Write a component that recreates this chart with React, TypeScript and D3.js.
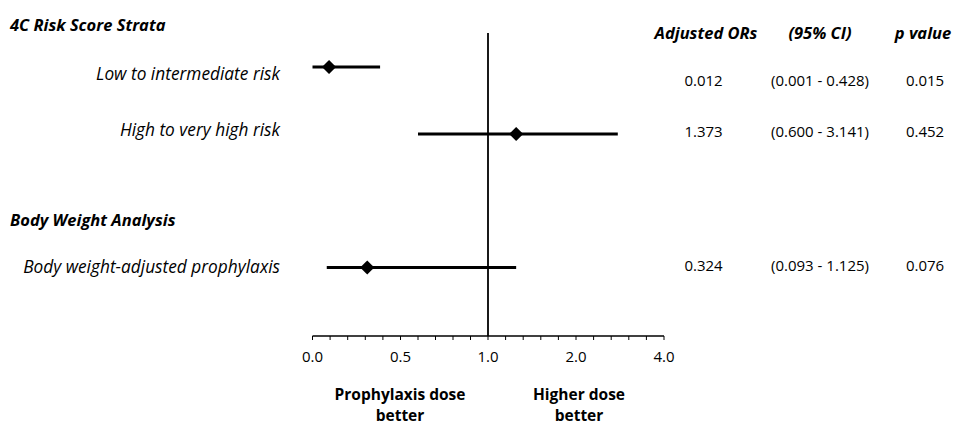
import React from "react";
import * as d3 from "d3";

// Rows of the forest plot
const groupHeaders = ["4C Risk Score Strata", "Body Weight Analysis"];
const rowLabels = ["Low to intermediate risk", "High to very high risk", "Body weight-adjusted prophylaxis"];
// Plotted positions (axis units)
const pointValues = [0.094, 1.32, 0.311];
const lowerValues = [0.0, 0.6, 0.081];
const upperValues = [0.384, 2.95, 1.32];
// Table text
const orText = ["0.012", "1.373", "0.324"];
const ciText = ["(0.001 - 0.428)", "(0.600 - 3.141)", "(0.093 - 1.125)"];
const pText = ["0.015", "0.452", "0.076"];
const columnHeaders = ["Adjusted ORs", "(95% CI)", "p value"];
// Axis
const tickValues = [0, 0.5, 1, 2, 4];
const tickLabels = ["0.0", "0.5", "1.0", "2.0", "4.0"];
const minorTicks = [...d3.range(0, 1, 0.1), ...d3.range(1, 2, 0.2), ...d3.range(2, 4.01, 0.4)];
const bottomLabels = [["Prophylaxis dose", "better"], ["Higher dose", "better"]];

const W = 955;
const H = 425;
const FONT = "'Open Sans', sans-serif";

export default function App() {
  const x = d3.scaleLinear().domain(tickValues).range([312.5, 400.5, 488, 576, 664]);
  const rowY = [67, 134, 267.5];
  const labelY = [75, 131.5, 268];
  const tableY = [82, 133, 267];
  const axisY = 336;
  const diamond = d3.symbol(d3.symbolSquare, 100)();

  return (
    <svg width={W} height={H} style={{ position: "absolute", left: 0, top: 0, background: "#fff" }} fontFamily={FONT}>
      <rect width={W} height={H} fill="#fff" />
      {/* group headers */}
      <text x={10} y={27} dominantBaseline="middle" fontWeight="bold" fontStyle="italic" fontSize={16.5}>{groupHeaders[0]}</text>
      <text x={10} y={222} dominantBaseline="middle" fontWeight="bold" fontStyle="italic" fontSize={16.5}>{groupHeaders[1]}</text>
      {/* row labels */}
      {rowLabels.map((l, i) => (
        <text key={l} x={280} y={labelY[i]} textAnchor="end" dominantBaseline="middle" fontStyle="italic" fontSize={17.3}>{l}</text>
      ))}
      {/* reference line */}
      <line x1={x(1)} x2={x(1)} y1={33} y2={axisY} stroke="#000" strokeWidth={1.8} />
      {/* axis */}
      <line x1={x(0)} x2={x(4)} y1={axisY} y2={axisY} stroke="#000" strokeWidth={1.3} />
      {minorTicks.map((t, i) => (
        <line key={i} x1={x(t)} x2={x(t)} y1={axisY} y2={axisY + 4} stroke="#000" strokeWidth={1} />
      ))}
      {tickValues.map((t, i) => (
        <text key={t} x={x(t)} y={358} textAnchor="middle" dominantBaseline="middle" fontSize={15}>{tickLabels[i]}</text>
      ))}
      {/* CI lines and points */}
      {rowLabels.map((l, i) => (
        <g key={l}>
          <line x1={x(lowerValues[i])} x2={x(upperValues[i])} y1={rowY[i]} y2={rowY[i]} stroke="#000" strokeWidth={2.8} />
          <path d={diamond!} transform={`translate(${x(pointValues[i])},${rowY[i]}) rotate(45)`} fill="#000" />
        </g>
      ))}
      {/* column headers */}
      {columnHeaders.map((h, i) => (
        <text key={h} x={[706, 820, 923][i]} y={35} textAnchor="middle" dominantBaseline="middle" fontWeight="bold" fontStyle="italic" fontSize={16.5}>{h}</text>
      ))}
      {rowLabels.map((l, i) => (
        <g key={l} fontSize={15}>
          <text x={703.5} y={tableY[i]} textAnchor="middle" dominantBaseline="middle">{orText[i]}</text>
          <text x={820} y={tableY[i]} textAnchor="middle" dominantBaseline="middle">{ciText[i]}</text>
          <text x={925} y={tableY[i]} textAnchor="middle" dominantBaseline="middle">{pText[i]}</text>
        </g>
      ))}
      {/* bottom labels */}
      {bottomLabels.map((lines, i) => (
        <g key={i}>
          {lines.map((s, j) => (
            <text key={s} x={[400, 579][i]} y={396 + j * 21} textAnchor="middle" dominantBaseline="middle" fontWeight="bold" fontSize={15.5}>{s}</text>
          ))}
        </g>
      ))}
    </svg>
  );
}
